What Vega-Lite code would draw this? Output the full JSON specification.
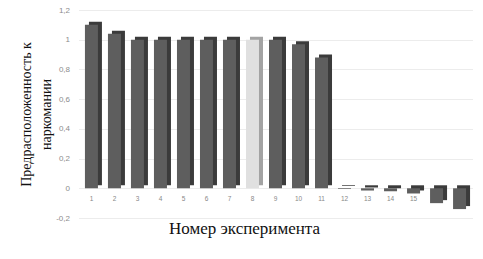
{
  "$schema": "https://vega.github.io/schema/vega-lite/v6.json",
  "width": 394,
  "height": 208,
  "autosize": {"type": "none"},
  "padding": {"left": 78.5, "top": 10, "right": 10.5, "bottom": 41},
  "background": "white",
  "config": {"view": {"stroke": null}, "font": "Liberation Sans"},
  "data": {
    "values": [
      {"n": 1, "value": 1.1},
      {"n": 2, "value": 1.04},
      {"n": 3, "value": 1.0},
      {"n": 4, "value": 1.0},
      {"n": 5, "value": 1.0},
      {"n": 6, "value": 1.0},
      {"n": 7, "value": 1.0},
      {"n": 8, "value": 1.0},
      {"n": 9, "value": 1.0},
      {"n": 10, "value": 0.97},
      {"n": 11, "value": 0.88},
      {"n": 12, "value": -0.005},
      {"n": 13, "value": -0.015},
      {"n": 14, "value": -0.02},
      {"n": 15, "value": -0.035},
      {"n": 16, "value": -0.1},
      {"n": 17, "value": -0.14}
    ]
  },
  "encoding": {
    "x": {
      "field": "n",
      "type": "ordinal",
      "sort": null,
      "scale": {"paddingInner": 0.435, "paddingOuter": 0.28},
      "axis": {
        "labelAngle": 0,
        "labelFontSize": 6.5,
        "labelColor": "#888888",
        "offset": -29.7,
        "domain": false,
        "ticks": false,
        "grid": false,
        "labelPadding": 7,
        "labelExpr": "datum.value > 15 ? '' : datum.label",
        "title": "Номер эксперимента",
        "titleFont": "Liberation Serif",
        "titleFontSize": 17,
        "titleFontWeight": "normal",
        "titleColor": "#111111",
        "titleX": 165.5,
        "titleAlign": "center",
        "titleAnchor": "start",
        "titleY": 45,
        "titleBaseline": "alphabetic"
      }
    },
    "y": {
      "field": "value",
      "type": "quantitative",
      "scale": {"domain": [-0.2, 1.2], "nice": false},
      "axis": {
        "values": [-0.2, 0, 0.2, 0.4, 0.6, 0.8, 1, 1.2],
        "labelExpr": "replace(replace(format(datum.value, '.1~f'), '.', ','), '−', '-')",
        "gridColor": "#ececec",
        "domain": false,
        "ticks": false,
        "labelColor": "#8c8c8c",
        "labelFontSize": 8,
        "labelPadding": 9,
        "title": ["Предрасположенность к", "наркомании"],
        "titleFont": "Liberation Serif",
        "titleFontSize": 14,
        "titleFontWeight": "normal",
        "titleColor": "#111111",
        "titleLineHeight": 20,
        "titlePadding": 2
      }
    }
  },
  "layer": [
    {
      "mark": {"type": "bar", "xOffset": 4, "yOffset": -3},
      "encoding": {
        "color": {"condition": {"test": "datum.n == 8", "value": "#a3a3a3"}, "value": "#3b3b3b"}
      }
    },
    {
      "mark": {"type": "bar"},
      "encoding": {
        "color": {"condition": {"test": "datum.n == 8", "value": "#e0e0e0"}, "value": "#5e5e5e"}
      }
    }
  ]
}
